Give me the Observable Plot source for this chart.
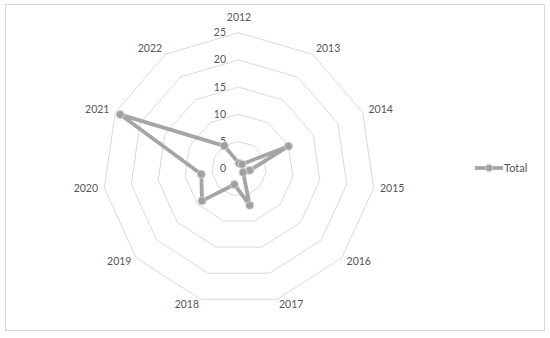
<!DOCTYPE html>
<html>
<head>
<meta charset="utf-8">
<script src="https://cdn.jsdelivr.net/npm/d3@7"></script>
<script src="https://cdn.jsdelivr.net/npm/@observablehq/plot@0.6"></script>
<style>
  html, body { margin: 0; padding: 0; background: #fff; }
  #wrap { position: relative; width: 550px; height: 338px; font-family: Lato, "Open Sans", sans-serif; }
  #frame { position: absolute; left: 5px; top: 4px; width: 540px; height: 327px; border: 1px solid #d9d9d9; box-sizing: border-box; pointer-events: none; }
  #legend { position: absolute; left: 475px; top: 161px; display: flex; align-items: center; font-size: 11px; color: #555; }
  #chart { position: absolute; left: 0; top: 0; }
</style>
</head>
<body>
<div id="wrap">
  <div id="chart"></div>
  <div id="frame"></div>
  <div id="legend"></div>
</div>
<script>
// ---- data ----
const categories = ["2012","2013","2014","2015","2016","2017","2018","2019","2020","2021","2022"];
const totals     = [1, 1, 10, 2, 1, 7, 3, 9, 7, 24, 5];
const ringTicks  = [0, 5, 10, 15, 20, 25];
const seriesName = "Total";

// ---- geometry helpers (data space) ----
const n = categories.length;
const maxR = 25;
const angle = i => 2 * Math.PI * i / n;
const polar = (i, r) => ({x: r * Math.sin(angle(i)), y: r * Math.cos(angle(i))});

const W = 550, H = 338;
const cx = 238.5, cy = 168.3, Rpx = 136;
const k = Rpx / maxR;

const rings = [];
for (const t of ringTicks.filter(t => t > 0)) {
  for (let i = 0; i < n; i++) rings.push({ring: t, ...polar(i, t)});
}
const series = totals.map((v, i) => ({cat: categories[i], value: v, ...polar(i, v)}));

// category labels: placed just outside each outer vertex, anchored by their nearest corner (pixel offsets)
const labels = categories.map((c, i) => {
  const v = polar(i, maxR);
  const sx = Math.sin(angle(i)), sy = -Math.cos(angle(i)); // screen direction
  const ox = sx * 6.6 + 12 * Math.sign(sx) * Math.min(1, 3.6 * Math.abs(sx));
  const oy = 6 * sy - (sy < 0 ? 9 * Math.pow(-sy, 12) : 0);
  return {text: c, x: v.x + ox / k, y: v.y - oy / k};
});
const tickLabels = ringTicks.map(t => ({text: String(t), x: 0, y: t}));

const chart = Plot.plot({
  width: W,
  height: H,
  margin: 0,
  style: {fontFamily: "Lato, 'Open Sans', sans-serif", background: "transparent"},
  x: {domain: [-cx / k, (W - cx) / k], axis: null},
  y: {domain: [-(H - cy) / k, cy / k], axis: null},
  marks: [
    Plot.line(rings, {x: "x", y: "y", z: "ring", curve: "linear-closed", stroke: "#d9d9d9", strokeWidth: 1}),
    Plot.text(tickLabels, {x: "x", y: "y", text: "text", textAnchor: "end", dx: -13, dy: 0, fill: "#555", fontSize: 10.5}),
    Plot.text(labels, {x: "x", y: "y", text: "text", fill: "#555", fontSize: 10.5}),
    Plot.line(series, {x: "x", y: "y", curve: "linear-closed", stroke: "#a5a5a5", strokeWidth: 3.8, strokeLinejoin: "round"}),
    Plot.dot(series, {x: "x", y: "y", r: 4, fill: "#a0a0a0", stroke: "#cfcfcf", strokeWidth: 1})
  ]
});
document.getElementById("chart").appendChild(chart);

// legend
const leg = document.getElementById("legend");
leg.innerHTML = `<svg width="28" height="10" style="margin-right:1px"><line x1="0" y1="5" x2="28" y2="5" stroke="#a5a5a5" stroke-width="3.8"/><circle cx="14" cy="5" r="3.5" fill="#a0a0a0" stroke="#cfcfcf"/></svg><span>${seriesName}</span>`;
</script>
</body>
</html>
